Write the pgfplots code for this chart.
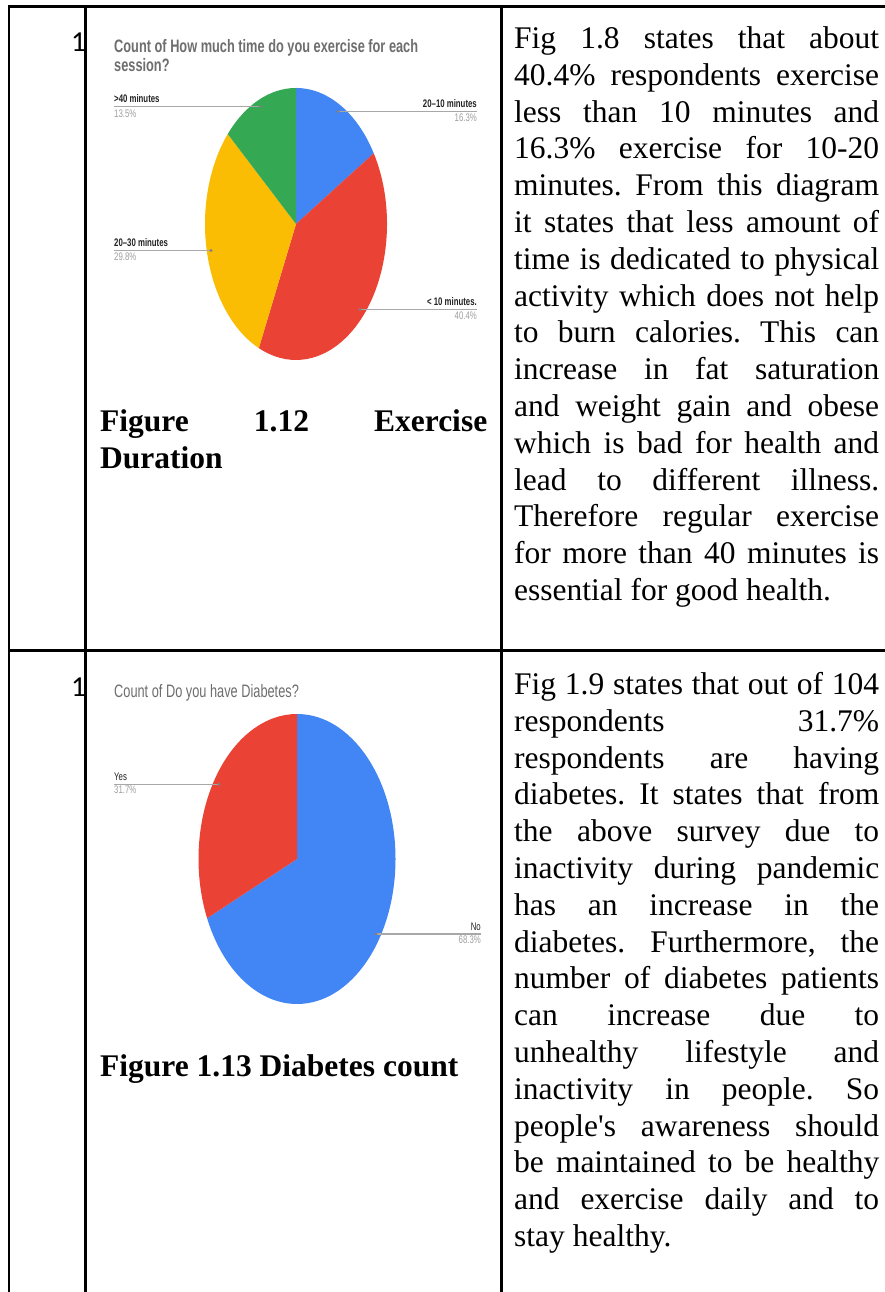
\documentclass[border=0pt]{standalone}
\usepackage{fontspec}
\usepackage{pgfplots}
\usepackage{pgfplotstable}
\pgfplotsset{compat=1.18}
\setmainfont{Liberation Serif}
\newfontfamily\chartfont[FakeStretch=0.71]{Liberation Sans}
\newfontfamily\numfont{Carlito}
\definecolor{gblue}{HTML}{4285F4}
\definecolor{gred}{HTML}{EA4335}
\definecolor{gyellow}{HTML}{FBBC04}
\definecolor{ggreen}{HTML}{34A853}
\definecolor{ttl}{HTML}{6E6E6E}
\definecolor{lbl}{HTML}{222222}
\definecolor{pct}{HTML}{9E9E9E}
\definecolor{leadc}{HTML}{A8A8A8}

% exercise duration (percent of respondents), clockwise from 12 o'clock
\pgfplotstableread{
value color
16.3 gblue
40.4 gred
29.8 gyellow
13.5 ggreen
}\durtable
% diabetes
\pgfplotstableread{
value color
68.3 gblue
31.7 gred
}\diatable

\newcommand\pieslices[3]{%
  \pgfplotstablegetrowsof{#1}%
  \pgfmathtruncatemacro\lastrow{\pgfplotsretval-1}%
  \def\cumval{0}%
  \pgfplotsforeachungrouped \rowi in {0,...,\lastrow}{%
    \pgfplotstablegetelem{\rowi}{value}\of{#1}\let\sliceval\pgfplotsretval
    \pgfplotstablegetelem{\rowi}{color}\of{#1}\let\slicecol\pgfplotsretval
    \pgfmathsetmacro\sa{90-3.6*\cumval}%
    \pgfmathsetmacro\cumval{\cumval+\sliceval}%
    \pgfmathsetmacro\ea{90-3.6*\cumval}%
    \edef\doit{\noexpand\fill[\slicecol] (axis cs:0,0) -- (axis cs:{cos(\sa)},{sin(\sa)}) arc[start angle=\sa, end angle=\ea, x radius=#2, y radius=#3] -- cycle;}%
    \doit
  }%
}
\newcommand\J[1]{\hbox to 365bp{#1}}
\newcommand\lblfont{\chartfont\bfseries\fontsize{11bp}{13bp}\selectfont}
\newcommand\pctfont{\chartfont\fontsize{11bp}{13bp}\selectfont}

\begin{document}
\frenchspacing
\begin{tikzpicture}[x=1bp,y=1bp]
\path[use as bounding box] (0,0) rectangle (885,1292);
\fill[white] (0,0) rectangle (885,1292);

% ---------- pie 1 ----------
\begin{axis}[at={(296bp,1068bp)}, anchor=center, scale only axis,
  width=182bp, height=272bp, xmin=-1, xmax=1, ymin=-1, ymax=1,
  hide axis, clip=false]
  \pieslices{\durtable}{91bp}{136bp}
\end{axis}

% ---------- pie 2 ----------
\begin{axis}[at={(297bp,433bp)}, anchor=center, scale only axis,
  width=197bp, height=290bp, xmin=-1, xmax=1, ymin=-1, ymax=1,
  hide axis, clip=false]
  \pieslices{\diatable}{98.5bp}{145bp}
\end{axis}

% chart titles
\node[anchor=base west, inner sep=0, text=ttl, font=\chartfont\bfseries\fontsize{18bp}{20bp}\selectfont] at (114,1239) {Count of How much time do you exercise for each};
\node[anchor=base west, inner sep=0, text=ttl, font=\chartfont\bfseries\fontsize{18bp}{20bp}\selectfont] at (114,1220) {session?};
\node[anchor=base west, inner sep=0, text=ttl, font=\chartfont\fontsize{18bp}{20bp}\selectfont] at (114,594) {Count of Do you have Diabetes?};

% leader lines
\begin{scope}[leadc, line width=1.2bp]
\draw (114,1185.5) -- (260,1185.5);
\draw (338,1180.5) -- (477,1180.5);
\draw (114,1041.5) -- (211,1041.5);
\draw (360,982.5) -- (477,982.5);
\draw (114,507.7) -- (219,507.7);
\draw (376,358) -- (481,358);
\end{scope}
\begin{scope}[fill=gray]
\fill (260,1185.5) circle (1.6);
\fill (338,1180.5) circle (1.6);
\fill (211,1041.5) circle (1.6);
\fill (360,982.5) circle (1.6);
\fill (219,507.7) circle (1.6);
\fill (376,358) circle (1.6);
\end{scope}

% labels pie 1
\node[anchor=base west, inner sep=0, text=lbl, font=\lblfont] at (114,1189) {>40 minutes};
\node[anchor=base west, inner sep=0, text=pct, font=\pctfont] at (114,1174) {13.5\%};
\node[anchor=base east, inner sep=0, text=lbl, font=\lblfont] at (477,1184) {20–10 minutes};
\node[anchor=base east, inner sep=0, text=pct, font=\pctfont] at (477,1170) {16.3\%};
\node[anchor=base west, inner sep=0, text=lbl, font=\lblfont] at (114,1045) {20–30 minutes};
\node[anchor=base west, inner sep=0, text=pct, font=\pctfont] at (114,1031) {29.8\%};
\node[anchor=base east, inner sep=0, text=lbl, font=\lblfont] at (477,986) {< 10 minutes.};
\node[anchor=base east, inner sep=0, text=pct, font=\pctfont] at (477,972) {40.4\%};
% labels pie 2
\node[anchor=base west, inner sep=0, text=lbl, font=\pctfont] at (114,511.5) {Yes};
\node[anchor=base west, inner sep=0, text=pct, font=\pctfont] at (114,498) {31.7\%};
\node[anchor=base east, inner sep=0, text=lbl, font=\pctfont] at (481,361.5) {No};
\node[anchor=base east, inner sep=0, text=pct, font=\pctfont] at (481,348) {68.3\%};

% row numbers
\node[anchor=base west, inner sep=0, font=\numfont\fontsize{29bp}{30bp}\selectfont] at (71,1240) {1};
\node[anchor=base west, inner sep=0, font=\numfont\fontsize{29bp}{30bp}\selectfont] at (71,595) {1};

% captions
\node[anchor=base west, inner sep=0] at (100,860) {\vtop{\fontsize{31.5bp}{36.8bp}\selectfont\bfseries
  \hbox to 387bp{Figure 1.12 Exercise}\hbox{Duration}}};
\node[anchor=base west, inner sep=0] at (100,215) {\vtop{\fontsize{31.5bp}{36.8bp}\selectfont\bfseries
  \hbox{Figure 1.13 Diabetes count}}};

% right column text
\node[anchor=base west, inner sep=0] at (514,1243.5) {\vtop{\fontsize{31.5bp}{36.8bp}\selectfont
\J{Fig 1.8 states that about}
\J{40.4\% respondents exercise}
\J{less than 10 minutes and}
\J{16.3\% exercise for 10-20}
\J{minutes. From this diagram}
\J{it states that less amount of}
\J{time is dedicated to physical}
\J{activity which does not help}
\J{to burn calories. This can}
\J{increase in fat saturation}
\J{and weight gain and obese}
\J{which is bad for health and}
\J{lead to different illness.}
\J{Therefore regular exercise}
\J{for more than 40 minutes is}
\hbox{essential for good health.}}};

\node[anchor=base west, inner sep=0] at (514,597.5) {\vtop{\fontsize{31.5bp}{36.8bp}\selectfont
\J{Fig 1.9 states that out of 104}
\J{respondents 31.7\%}
\J{respondents are having}
\J{diabetes. It states that from}
\J{the above survey due to}
\J{inactivity during pandemic}
\J{has an increase in the}
\J{diabetes. Furthermore, the}
\J{number of diabetes patients}
\J{can increase due to}
\J{unhealthy lifestyle and}
\J{inactivity in people. So}
\J{people\textquotesingle s awareness should}
\J{be maintained to be healthy}
\J{and exercise daily and to}
\hbox{stay healthy.}}};

% table rules
\begin{scope}[black]
\draw[line width=3bp] (8,1285.5) -- (885,1285.5);
\draw[line width=3bp] (8,641) -- (885,641);
\draw[line width=2.6bp] (9,1287) -- (9,0);
\draw[line width=2.6bp] (85.5,1287) -- (85.5,0);
\draw[line width=2.6bp] (501.5,1287) -- (501.5,0);
\end{scope}
\end{tikzpicture}
\end{document}
